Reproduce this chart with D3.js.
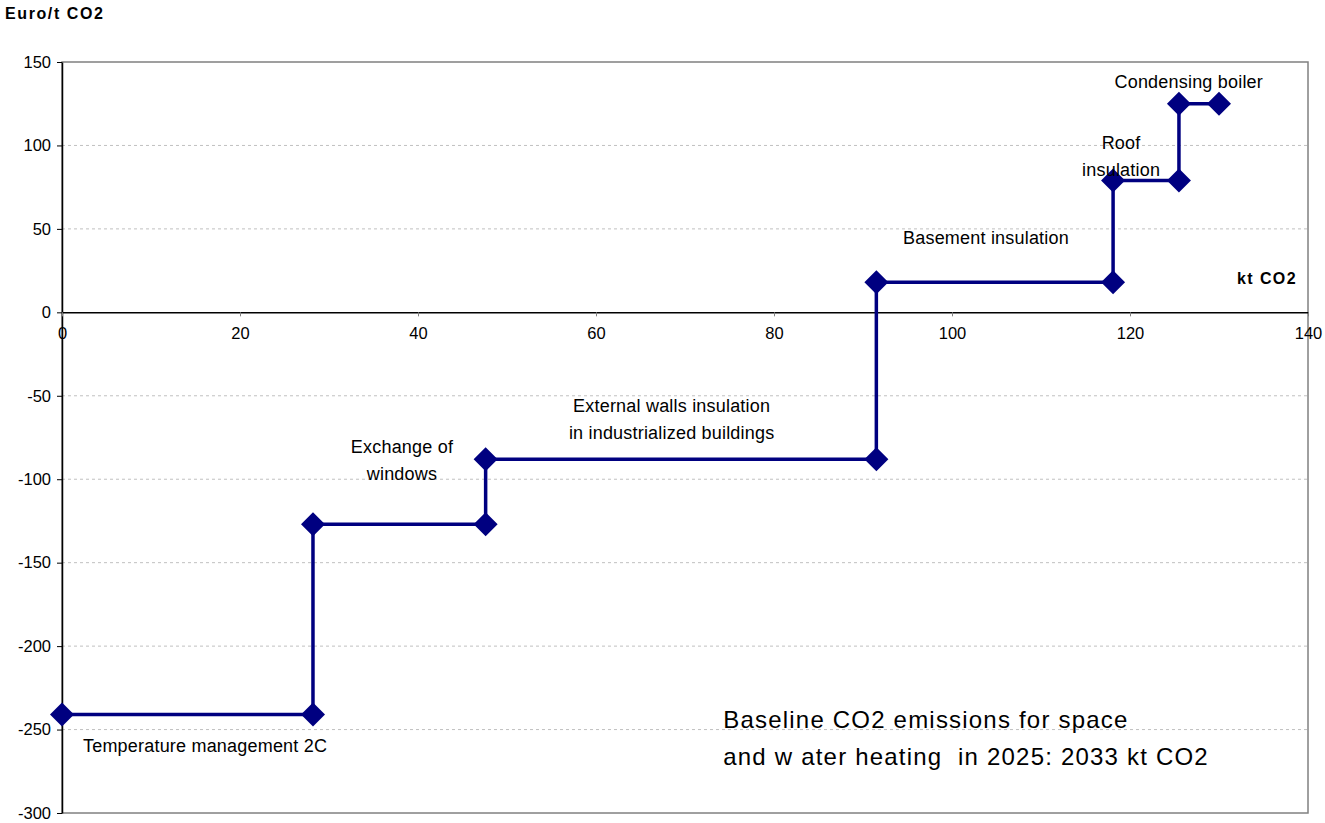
<!DOCTYPE html>
<html>
<head>
<meta charset="utf-8">
<script src="https://cdn.jsdelivr.net/npm/d3@7"></script>
<style>
  body { margin: 0; background: #fff; }
  text { font-family: "Liberation Sans", Arial, sans-serif; fill: #000; }
</style>
</head>
<body>
<svg id="chart" width="1325" height="823"></svg>
<script>
// step curve points (kt CO2, Euro/t CO2)
var stepX = [0, 28.2, 28.2, 47.6, 47.6, 91.5, 91.5, 118.1, 118.1, 125.5, 125.5, 130];
var stepY = [-241, -241, -127, -127, -88, -88, 18, 18, 79, 79, 125, 125];

var xTicks = [0, 20, 40, 60, 80, 100, 120, 140];
var yTicks = [150, 100, 50, 0, -50, -100, -150, -200, -250, -300];

// annotation labels
var labelText = [
  ["Temperature management 2C"],
  ["Exchange of", "windows"],
  ["External walls insulation", "in industrialized buildings"],
  ["Basement insulation"],
  ["Roof", "insulation"],
  ["Condensing boiler"]
];
var labelX = [2.36, 38.2, 68.5, 94.5, 119.0, 126.6];
var labelY = [-263.4, -84.3, -59.7, 40.9, 97.8, 134.4];
var labelAnchor = ["start", "middle", "middle", "start", "middle", "middle"];

var svg = d3.select("#chart"),
    margin = {top: 62, right: 17, bottom: 10, left: 62},
    width = +svg.attr("width") - margin.left - margin.right,
    height = +svg.attr("height") - margin.top - margin.bottom;

var x = d3.scaleLinear().domain([0, 140]).range([0, width]);
var y = d3.scaleLinear().domain([-300, 150]).range([height, 0]);

var g = svg.append("g")
  .attr("transform", "translate(" + margin.left + "," + margin.top + ")");

// gridlines
g.selectAll(".grid")
  .data(yTicks.filter(function(d) { return d !== 0 && d !== 150 && d !== -300; }))
  .enter().append("line")
    .attr("x1", 0).attr("x2", width)
    .attr("y1", function(d) { return y(d); })
    .attr("y2", function(d) { return y(d); })
    .attr("stroke", "#c0c0c0")
    .attr("stroke-dasharray", "3,3");

// plot frame
g.append("rect")
  .attr("width", width).attr("height", height)
  .attr("fill", "none").attr("stroke", "#808080").attr("stroke-width", 1.5);

// y axis
var yAxis = g.append("g")
  .call(d3.axisLeft(y).tickValues(yTicks).tickSize(5).tickPadding(6).tickSizeOuter(0)
    .tickFormat(function(d) { return String(d); }));
yAxis.select(".domain").attr("stroke", "#000").attr("stroke-width", 1.5);
yAxis.selectAll("text").style("font-size", "16.5px").style("font-family", "Liberation Sans, Arial, sans-serif");

// x axis at zero
var xAxis = g.append("g")
  .attr("transform", "translate(0," + y(0) + ")")
  .call(d3.axisBottom(x).tickValues(xTicks).tickSize(4).tickPadding(11).tickSizeOuter(0));
xAxis.select(".domain").attr("stroke", "#000").attr("stroke-width", 1.5);
xAxis.selectAll(".tick line").attr("stroke", "#808080");
xAxis.selectAll("text").style("font-size", "16.5px").style("font-family", "Liberation Sans, Arial, sans-serif");

// step line
var pts = stepX.map(function(d, i) { return [d, stepY[i]]; });
var line = d3.line()
  .x(function(d) { return x(d[0]); })
  .y(function(d) { return y(d[1]); });

g.append("path")
  .datum(pts)
  .attr("fill", "none")
  .attr("stroke", "#000080")
  .attr("stroke-width", 3.5)
  .attr("d", line);

// diamond markers
var r = 12;
g.selectAll(".marker")
  .data(pts)
  .enter().append("path")
    .attr("class", "marker")
    .attr("fill", "#000080")
    .attr("d", function(d) {
      var cx = x(d[0]), cy = y(d[1]);
      return "M" + cx + "," + (cy - r) + "L" + (cx + r) + "," + cy +
             "L" + cx + "," + (cy + r) + "L" + (cx - r) + "," + cy + "Z";
    });

// annotations
labelText.forEach(function(lines, i) {
  var t = g.append("text")
    .attr("x", x(labelX[i]))
    .attr("y", y(labelY[i]))
    .attr("text-anchor", labelAnchor[i])
    .style("font-size", "18px")
    .style("letter-spacing", "0.2px");
  lines.forEach(function(s, j) {
    t.append("tspan")
      .attr("x", x(labelX[i]))
      .attr("dy", j === 0 ? 0 : 27)
      .text(s);
  });
});

// baseline note
var note = g.append("text")
  .attr("x", x(74.3))
  .attr("y", y(-249))
  .style("font-size", "24px")
  .style("letter-spacing", "1.2px")
  .style("white-space", "pre");
note.append("tspan").attr("x", x(74.3)).text("Baseline CO2 emissions for space");
note.append("tspan").attr("x", x(74.3)).attr("dy", 37).text("and w ater heating  in 2025: 2033 kt CO2");

// axis titles
svg.append("text")
  .attr("x", 5).attr("y", 19)
  .style("font-size", "16px").style("font-weight", "bold")
  .style("letter-spacing", "1.6px")
  .text("Euro/t CO2");

svg.append("text")
  .attr("x", 1297).attr("y", 284)
  .attr("text-anchor", "end")
  .style("font-size", "16px").style("font-weight", "bold")
  .style("letter-spacing", "1.4px")
  .text("kt CO2");
</script>
</body>
</html>
